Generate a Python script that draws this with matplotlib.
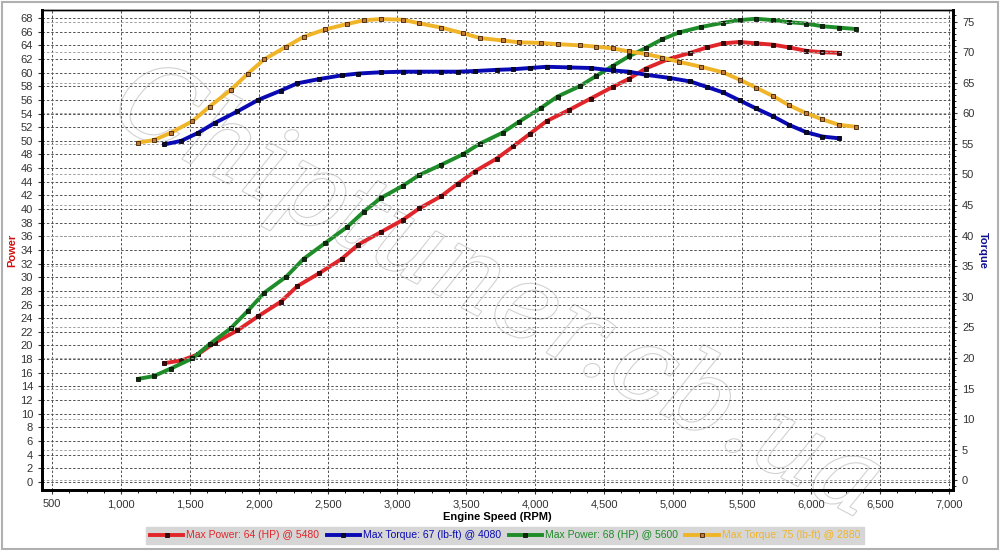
import matplotlib
matplotlib.use("Agg")
import matplotlib.pyplot as plt
import matplotlib.patheffects as pe
from matplotlib.ticker import MultipleLocator, FuncFormatter
from matplotlib.patches import Rectangle

plt.rcParams['font.family'] = ['Liberation Sans', 'DejaVu Sans']

# run 1 (red power / blue torque)
rpm_a = [1314, 1437, 1558, 1678, 1843, 1995, 2157, 2278, 2437, 2599, 2720, 2881,
         3041, 3162, 3321, 3439, 3562, 3722, 3843, 3961, 4084, 4244, 4403, 4562,
         4681, 4801, 4968, 5125, 5246, 5364, 5483, 5601, 5725, 5841, 5966, 6082, 6205]
power_a = [17.4, 17.8, 18.7, 20.4, 22.2, 24.3, 26.4, 28.7, 30.6, 32.7, 34.8, 36.6,
           38.4, 40.1, 41.9, 43.7, 45.5, 47.4, 49.2, 51.0, 52.9, 54.5, 56.2, 57.9,
           59.1, 60.6, 62.0, 62.9, 63.7, 64.3, 64.5, 64.3, 64.1, 63.7, 63.2, 63.0, 62.9]
torque_a = [54.9, 55.5, 56.8, 58.4, 60.3, 62.2, 63.7, 64.9, 65.6, 66.2, 66.5, 66.7,
            66.8, 66.8, 66.8, 66.8, 66.9, 67.1, 67.2, 67.4, 67.6, 67.5, 67.4, 67.0,
            66.8, 66.3, 65.8, 65.2, 64.3, 63.4, 62.1, 60.8, 59.5, 58.1, 56.9, 56.2, 55.9]

# run 2 (green power / orange torque)
rpm_b = [1123, 1236, 1359, 1517, 1642, 1794, 1920, 2036, 2198, 2323, 2478, 2640,
         2758, 2881, 3041, 3162, 3321, 3475, 3601, 3765, 3884, 4041, 4163, 4323,
         4442, 4565, 4681, 4801, 4922, 5045, 5204, 5359, 5483, 5601, 5725, 5841,
         5966, 6082, 6205, 6323]
power_b = [15.1, 15.5, 16.6, 18.1, 20.2, 22.5, 25.1, 27.7, 30.1, 32.7, 35.0, 37.4,
           39.6, 41.6, 43.4, 45.0, 46.5, 48.0, 49.6, 51.2, 52.8, 54.8, 56.5, 58.0,
           59.5, 61.0, 62.4, 63.6, 64.9, 65.9, 66.7, 67.3, 67.7, 67.9, 67.7, 67.4,
           67.2, 66.8, 66.6, 66.4]
torque_b = [55.2, 55.6, 56.8, 58.7, 61.1, 63.8, 66.5, 68.8, 70.9, 72.5, 73.7, 74.6,
            75.2, 75.4, 75.3, 74.7, 74.0, 73.1, 72.3, 71.9, 71.6, 71.5, 71.3, 71.1,
            70.9, 70.6, 70.1, 69.7, 69.1, 68.4, 67.6, 66.7, 65.5, 64.2, 62.8, 61.3,
            60.0, 59.0, 58.1, 57.8]

labels = ["Max Power: 64 (HP) @ 5480", "Max Torque: 67 (lb-ft) @ 4080",
          "Max Power: 68 (HP) @ 5600", "Max Torque: 75 (lb-ft) @ 2880"]
colors = ["#e0262a", "#0a0ab4", "#1e8c28", "#f0b428"]
mfaces = ["#3a0a0a", "#0a0a30", "#0f2a0f", "#c07a3a"]

fig = plt.figure(figsize=(10, 5.5), dpi=100)
fig.patches.append(Rectangle((0.002, 0.002), 0.996, 0.994, transform=fig.transFigure,
                             fill=False, edgecolor="#b0b0b0", lw=1.5))
ax = fig.add_axes([0.042, 0.109, 0.911, 0.873])
ax2 = ax.twinx()

ax.set_xlim(427, 7029)
ax.set_ylim(-1.2, 69.2)
ax2.set_ylim(-1.6, 76.9)

# watermark, outlined letters
ax.text(0.5, 0.41, "Chiptuner.cb.ua", transform=ax.transAxes, fontsize=76,
        color="white", rotation=-28, ha="center", va="center",
        style="italic", family="DejaVu Serif", zorder=0,
        path_effects=[pe.withStroke(linewidth=1.6, foreground="#d2d2d2")])

ax.xaxis.set_major_locator(MultipleLocator(500))
ax.xaxis.set_minor_locator(MultipleLocator(125))
ax.xaxis.set_major_formatter(FuncFormatter(lambda v, p: f"{int(v):,}"))
ax.yaxis.set_major_locator(MultipleLocator(2))
ax2.yaxis.set_major_locator(MultipleLocator(5))
ax2.yaxis.set_minor_locator(MultipleLocator(1))

ax.grid(True, which="major", color="#505050", ls=(0, (2.5, 2)), lw=0.7)
ax2.grid(True, which="major", axis="y", color="#a0a0a0", ls=(0, (2.5, 2)), lw=0.7)
ax.set_axisbelow(True)

for a in (ax, ax2):
    a.tick_params(labelsize=8, colors="#333333", length=3, width=0.8)
    a.tick_params(which="minor", length=2, width=0.6)
    for s in a.spines.values():
        s.set_linewidth(2)
        s.set_color("black")
    a.spines["top"].set_linewidth(1)

handles = []
h, = ax.plot(rpm_a, power_a, color=colors[0], lw=2.8, marker="s", ms=3.5,
             mfc=mfaces[0], mec="#200000", mew=0.6, zorder=3)
handles.append(h)
h, = ax2.plot(rpm_a, torque_a, color=colors[1], lw=2.8, marker="s", ms=3.5,
              mfc=mfaces[1], mec="#000010", mew=0.6, zorder=3)
handles.append(h)
h, = ax.plot(rpm_b, power_b, color=colors[2], lw=2.8, marker="s", ms=3.5,
             mfc=mfaces[2], mec="#051505", mew=0.6, zorder=3)
handles.append(h)
h, = ax2.plot(rpm_b, torque_b, color=colors[3], lw=2.8, marker="s", ms=3.5,
              mfc=mfaces[3], mec="#402000", mew=0.6, zorder=3)
handles.append(h)

ax.set_xlabel("Engine Speed (RPM)", fontsize=8, fontweight="bold", labelpad=2)
ax.set_ylabel("Power", fontsize=8, fontweight="bold", color="#d01010", labelpad=2)
ax2.set_ylabel("Torque", fontsize=8, fontweight="bold", color="#101090",
               rotation=-90, labelpad=10)

leg = fig.legend(handles, labels, loc="center", bbox_to_anchor=(0.505, 0.027),
                 ncol=4, fontsize=7.5, frameon=True, fancybox=False,
                 facecolor="#d6d6d6", edgecolor="#d6d6d6", framealpha=1,
                 handlelength=3.2, handletextpad=0.3, columnspacing=0.7,
                 borderpad=0.35, numpoints=1)
for t, c in zip(leg.get_texts(), colors):
    t.set_color(c)

fig.savefig("out.png", dpi=100)
